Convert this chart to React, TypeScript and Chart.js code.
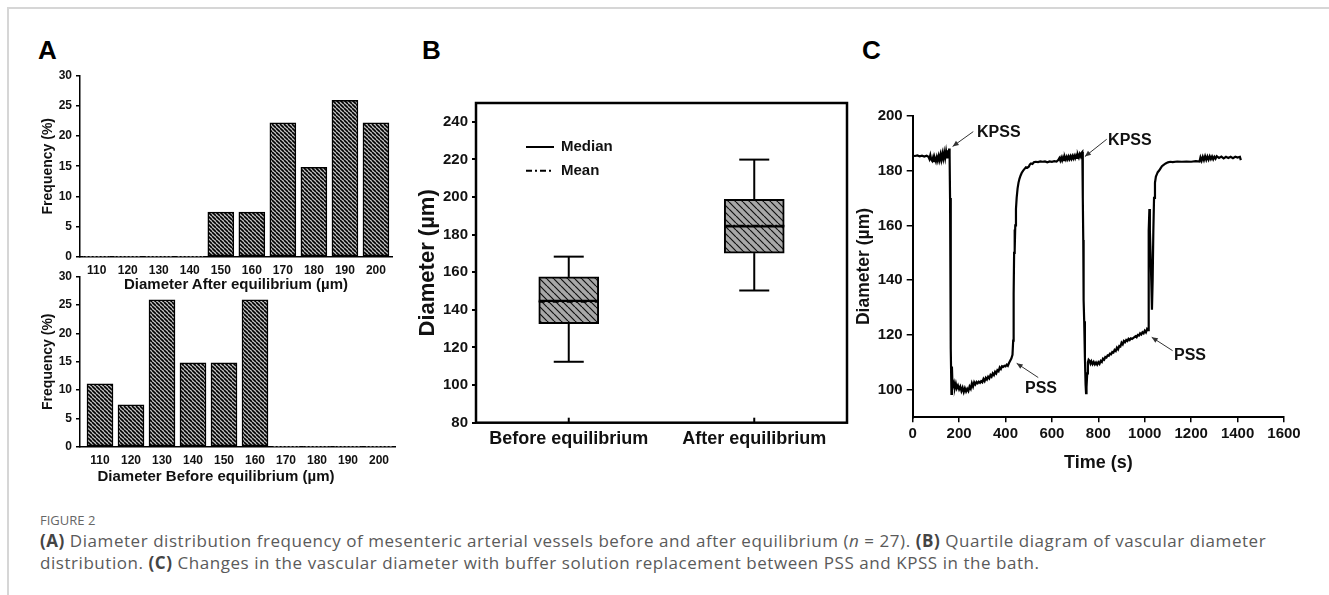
import React, { useEffect, useRef } from "react";
import { Chart, registerables } from "chart.js";

Chart.register(...registerables);

const FONT = "'Liberation Sans', Arial, Helvetica, sans-serif";
const INK = "#111";

// ---------- Panel A: histograms ----------
const DIAMETER_BINS = [110, 120, 130, 140, 150, 160, 170, 180, 190, 200];
const FREQ_AFTER = [0, 0, 0, 0, 7.4, 7.4, 22.2, 14.8, 25.9, 22.2];
const FREQ_BEFORE = [11.1, 7.4, 25.9, 14.8, 14.8, 25.9, 0, 0, 0, 0];
const FREQ_TICKS = [0, 5, 10, 15, 20, 25, 30];

// ---------- Panel B: box plot ----------
const BOX_GROUPS = ["Before equilibrium", "After equilibrium"];
const BOX_MIN = [112.4, 150.3];
const BOX_Q1 = [132.7, 170.2];
const BOX_MEDIAN = [144.8, 184.4];
const BOX_MEAN = [144.3, 184.8];
const BOX_Q3 = [157.5, 198.8];
const BOX_MAX = [168.3, 219.9];
const BOX_TICKS = [80, 100, 120, 140, 160, 180, 200, 220, 240];
const LEGEND_LABELS = ["Median", "Mean"];

// ---------- Panel C: diameter trace ----------
const TIME_S = [
  0, 10, 20, 30, 40, 50, 60, 68, 72, 76, 80, 84, 88, 92, 96, 100, 104, 108, 112, 116,
  120, 124, 128, 132, 136, 140, 144, 148, 152, 155, 157, 159, 161, 163, 165, 167, 169, 171, 174, 178,
  182, 186, 190, 195, 200, 205, 210, 215, 220, 225, 230, 235, 240, 245, 250, 255, 260, 265, 270, 275,
  280, 285, 290, 295, 300, 305, 310, 315, 320, 325, 330, 335, 340, 345, 350, 355, 360, 365, 370, 375,
  380, 385, 390, 395, 400, 405, 410, 415, 420, 425, 430, 433, 435, 437, 439, 440, 442, 445, 448, 452,
  456, 460, 465, 470, 476, 482, 488, 494, 500, 505, 510, 516, 522, 530, 540, 550, 560, 570, 580, 590,
  600, 610, 620, 628, 632, 636, 640, 644, 648, 652, 656, 660, 664, 668, 672, 676, 680, 684, 688, 692,
  696, 700, 704, 708, 712, 716, 720, 724, 728, 731, 733, 735, 736, 737, 739, 742, 745, 747, 749, 752,
  755, 758, 762, 766, 770, 775, 780, 785, 790, 795, 800, 805, 810, 815, 820, 825, 830, 835, 840, 845,
  850, 855, 860, 865, 870, 875, 880, 885, 890, 895, 900, 905, 910, 915, 920, 925, 930, 935, 940, 945,
  950, 955, 960, 965, 970, 975, 980, 985, 990, 995, 1000, 1005, 1010, 1014, 1016, 1018, 1020, 1022, 1025, 1028,
  1031, 1034, 1037, 1040, 1044, 1048, 1052, 1056, 1062, 1068, 1074, 1080, 1090, 1100, 1110, 1120, 1140, 1160, 1180, 1200,
  1220, 1236, 1240, 1245, 1250, 1255, 1260, 1265, 1270, 1275, 1280, 1285, 1290, 1295, 1300, 1305, 1310, 1320, 1330, 1340,
  1350, 1360, 1370, 1380, 1390, 1400, 1410, 1414,
];
const DIAMETER_UM = [
  185.4, 185.3, 185.5, 185.2, 185.4, 185.1, 185.4, 185.0, 184.2, 185.6, 184.0, 183.5, 184.8, 183.4, 184.4, 183.3, 184.9, 183.6, 185.3, 183.8,
  185.8, 184.0, 186.2, 184.4, 186.6, 184.6, 187.0, 184.8, 187.4, 185.2, 188.0, 185.8, 170.0, 140.0, 115.0, 98.5, 108.5, 103.0, 101.4, 102.6,
  100.8, 102.2, 100.6, 101.6, 100.2, 101.2, 99.6, 100.8, 99.2, 100.6, 99.4, 100.4, 99.6, 101.2, 100.4, 102.4, 101.2, 102.8, 102.0, 102.9,
  102.4, 103.0, 102.6, 103.2, 102.8, 104.0, 103.2, 104.4, 103.8, 104.8, 104.2, 105.4, 104.8, 106.0, 105.4, 106.6, 106.0, 107.2, 106.8, 108.2,
  107.6, 108.6, 108.4, 108.8, 108.6, 109.2, 108.8, 109.8, 110.6, 111.4, 112.8, 118.0, 135.0, 150.0, 158.5, 151.0, 160.0, 166.0, 170.0, 173.5,
  175.6, 177.0, 178.2, 179.2, 180.0, 180.6, 181.2, 181.0, 181.4, 182.2, 182.6, 182.4, 183.0, 183.2, 183.1, 183.3, 183.2, 183.3, 183.0, 183.3,
  183.2, 183.4, 183.3, 183.9, 184.5, 183.6, 184.7, 183.7, 184.8, 183.8, 184.9, 184.0, 185.0, 184.1, 185.1, 184.2, 185.2, 184.3, 185.3, 184.4,
  185.4, 184.5, 185.5, 184.6, 185.7, 184.8, 186.0, 185.2, 186.5, 186.8, 170.0, 154.7, 145.0, 132.8, 125.0, 112.0, 102.0, 98.8, 101.0, 106.0,
  110.0, 111.0, 110.6, 109.6, 110.4, 109.4, 110.2, 109.3, 110.0, 109.2, 110.1, 109.5, 110.6, 110.2, 111.4, 111.0, 112.0, 111.8, 112.6, 112.4,
  113.2, 113.0, 113.8, 113.6, 114.6, 114.2, 115.4, 114.8, 116.0, 115.8, 117.2, 116.6, 117.8, 117.4, 118.2, 117.8, 118.6, 118.2, 118.8, 118.6,
  118.9, 119.2, 119.6, 119.2, 120.0, 119.8, 120.6, 120.2, 121.0, 120.6, 121.6, 121.0, 122.2, 121.8, 140.0, 158.0, 166.0, 158.0, 150.0, 140.0,
  129.2, 140.0, 158.0, 170.0, 175.5, 177.8, 178.6, 179.4, 180.0, 180.8, 181.6, 182.0, 182.6, 183.0, 183.2, 183.1, 183.3, 183.2, 183.3, 183.2,
  183.4, 183.3, 184.8, 183.6, 185.0, 183.8, 185.2, 183.9, 185.1, 184.0, 185.2, 184.2, 185.1, 184.1, 185.0, 184.3, 185.2, 184.6, 185.1, 184.4,
  185.0, 184.6, 185.0, 184.5, 185.0, 184.7, 185.0, 183.8,
];
const TIME_TICKS = [0, 200, 400, 600, 800, 1000, 1200, 1400, 1600];
const TRACE_TICKS = [100, 120, 140, 160, 180, 200];

const ANNOTATION_LABELS = ["KPSS", "KPSS", "PSS", "PSS"];
const ANNOTATION_TEXT_AT = [[277, 194], [842, 190.8], [484, 100.6], [1126, 112.4]];
const ANNOTATION_FROM = [[261, 194.2], [836, 191.4], [541, 104.5], [1120, 114.3]];
const ANNOTATION_TO = [[172, 188.8], [742, 185.1], [448, 109.7], [1030, 119.2]];

// ---------- helpers ----------
function hatch(bg: string, fg: string, size: number, lw: number) {
  const c = document.createElement("canvas");
  c.width = size;
  c.height = size;
  const g = c.getContext("2d")!;
  g.fillStyle = bg;
  g.fillRect(0, 0, size, size);
  g.strokeStyle = fg;
  g.lineWidth = lw;
  g.beginPath();
  for (const k of [-size, 0, size]) {
    g.moveTo(k, 0);
    g.lineTo(k + size, size);
  }
  g.stroke();
  return g.createPattern(c, "repeat")!;
}

const bold = (size: number) => ({ family: FONT, size, weight: "bold" as const });
const setTicks = (vals: number[]) => (s: any) => {
  s.ticks = vals.map((v) => ({ value: v }));
};

function line(ctx: CanvasRenderingContext2D, x0: number, y0: number, x1: number, y1: number) {
  ctx.beginPath();
  ctx.moveTo(x0, y0);
  ctx.lineTo(x1, y1);
  ctx.stroke();
}

function histConfig(values: number[], xmin: number, xmax: number, padTop: number, padRight: number, xHeight: number) {
  return {
    type: "bar",
    data: {
      datasets: [
        {
          data: DIAMETER_BINS.map((b, i) => ({ x: b, y: values[i] })),
          backgroundColor: hatch("#c4c4c4", "#000", 4, 1.6),
          borderColor: "#000",
          borderWidth: (c: any) => (values[c.dataIndex] > 0 ? 1.5 : 0),
          borderSkipped: false,
          barThickness: 26,
        },
      ],
    },
    options: {
      responsive: false,
      animation: false,
      layout: { padding: { left: 0, top: padTop, right: padRight, bottom: 0 } },
      plugins: { legend: { display: false }, tooltip: { enabled: false } },
      scales: {
        x: {
          type: "linear",
          min: xmin,
          max: xmax,
          offset: false,
          afterBuildTicks: setTicks(DIAMETER_BINS),
          afterFit: (s: any) => {
            s.height = xHeight;
          },
          grid: { display: false, drawTicks: false },
          border: { display: true, color: "#000", width: 1.5 },
          ticks: { font: bold(12), color: INK, padding: 6.8, maxRotation: 0, minRotation: 0, autoSkip: false, callback: (v: any) => String(v) },
        },
        y: {
          min: 0,
          max: 30,
          afterBuildTicks: setTicks(FREQ_TICKS),
          afterFit: (s: any) => {
            s.width = 80;
          },
          grid: { display: true, drawOnChartArea: false, drawTicks: true, tickLength: 4, color: "#000", lineWidth: 1.5 },
          border: { display: true, color: "#000", width: 1.5 },
          ticks: { font: bold(12), color: INK, padding: 4, callback: (v: any) => String(v) },
          title: { display: true, text: "Frequency (%)", font: bold(14), color: INK, padding: { top: 39.6, bottom: 0 } },
        },
      },
    },
  };
}

const boxPlugin = {
  id: "boxExtras",
  afterDatasetsDraw(chart: any) {
    const { ctx, chartArea: ca, scales } = chart;
    const x = scales.x;
    const y = scales.y;
    const meta = chart.getDatasetMeta(0);
    ctx.save();
    ctx.strokeStyle = "#000";
    meta.data.forEach((bar: any, i: number) => {
      const cx = bar.x;
      const hw = bar.width / 2;
      const pMin = y.getPixelForValue(BOX_MIN[i]);
      const pMax = y.getPixelForValue(BOX_MAX[i]);
      const pQ1 = y.getPixelForValue(BOX_Q1[i]);
      const pQ3 = y.getPixelForValue(BOX_Q3[i]);
      const pMed = y.getPixelForValue(BOX_MEDIAN[i]);
      const pMean = y.getPixelForValue(BOX_MEAN[i]);
      ctx.setLineDash([]);
      ctx.lineWidth = 2;
      line(ctx, cx, pQ3, cx, pMax);
      line(ctx, cx, pQ1, cx, pMin);
      line(ctx, cx - hw / 2, pMax, cx + hw / 2, pMax);
      line(ctx, cx - hw / 2, pMin, cx + hw / 2, pMin);
      ctx.lineWidth = 2.2;
      line(ctx, cx - hw, pMed, cx + hw, pMed);
      ctx.lineWidth = 1.8;
      ctx.setLineDash([6, 3, 2, 3]);
      line(ctx, cx - hw, pMean, cx + hw, pMean);
    });
    ctx.setLineDash([]);
    // frame
    ctx.lineWidth = 2.5;
    ctx.strokeRect(ca.left, ca.top, ca.right - ca.left, ca.bottom - ca.top);
    // inward x ticks
    ctx.lineWidth = 2;
    x.ticks.forEach((_: any, i: number) => {
      const px = x.getPixelForTick(i);
      line(ctx, px, ca.bottom, px, ca.bottom - 5);
    });
    // legend
    const L = ca.left;
    const T = ca.top;
    ctx.lineWidth = 2;
    line(ctx, L + 50, T + 44, L + 78, T + 44);
    ctx.setLineDash([6, 3, 2, 3]);
    line(ctx, L + 50, T + 67.7, L + 78, T + 67.7);
    ctx.setLineDash([]);
    ctx.font = `bold 15px ${FONT}`;
    ctx.textBaseline = "middle";
    ctx.textAlign = "left";
    ctx.fillStyle = INK;
    ctx.fillText(LEGEND_LABELS[0], L + 85, T + 44);
    ctx.fillText(LEGEND_LABELS[1], L + 85, T + 67.7);
    ctx.restore();
  },
};

const boxConfig = () => ({
  type: "bar",
  data: {
    labels: BOX_GROUPS,
    datasets: [
      {
        data: BOX_Q1.map((q, i) => [q, BOX_Q3[i]]),
        backgroundColor: hatch("#a8a8a8", "#111", 7, 1.2),
        borderColor: "#000",
        borderWidth: 2,
        borderSkipped: false,
        barThickness: 60,
      },
    ],
  },
  options: {
    responsive: false,
    animation: false,
    layout: { padding: { left: 0, top: 8.3, right: 13, bottom: 0 } },
    plugins: { legend: { display: false }, tooltip: { enabled: false } },
    scales: {
      x: {
        afterFit: (s: any) => {
          s.height = 47.3;
        },
        grid: { display: false, drawTicks: false },
        border: { display: false },
        ticks: { font: bold(18), color: INK, padding: 5.5, maxRotation: 0, minRotation: 0, autoSkip: false },
      },
      y: {
        min: 80,
        max: 250,
        afterBuildTicks: setTicks(BOX_TICKS),
        afterFit: (s: any) => {
          s.width = 76;
        },
        grid: { display: true, drawOnChartArea: false, drawTicks: true, tickLength: 4, color: "#000", lineWidth: 2 },
        border: { display: false },
        ticks: { font: bold(15), color: INK, padding: 4, callback: (v: any) => String(v) },
        title: { display: true, text: "Diameter (µm)", font: bold(22), color: INK, padding: { top: 14.8, bottom: 0 } },
      },
    },
  },
  plugins: [boxPlugin],
});

const annotationPlugin = {
  id: "arrows",
  afterDatasetsDraw(chart: any) {
    const { ctx, scales } = chart;
    const x = scales.x;
    const y = scales.y;
    ctx.save();
    ANNOTATION_LABELS.forEach((label, i) => {
      const x0 = x.getPixelForValue(ANNOTATION_FROM[i][0]);
      const y0 = y.getPixelForValue(ANNOTATION_FROM[i][1]);
      const x1 = x.getPixelForValue(ANNOTATION_TO[i][0]);
      const y1 = y.getPixelForValue(ANNOTATION_TO[i][1]);
      ctx.strokeStyle = "#333";
      ctx.fillStyle = "#333";
      ctx.lineWidth = 1;
      line(ctx, x0, y0, x1, y1);
      const a = Math.atan2(y1 - y0, x1 - x0);
      const len = 6;
      const w = 2.6;
      ctx.beginPath();
      ctx.moveTo(x1, y1);
      ctx.lineTo(x1 - len * Math.cos(a) + w * Math.sin(a), y1 - len * Math.sin(a) - w * Math.cos(a));
      ctx.lineTo(x1 - len * Math.cos(a) - w * Math.sin(a), y1 - len * Math.sin(a) + w * Math.cos(a));
      ctx.closePath();
      ctx.fill();
      ctx.font = `bold 16px ${FONT}`;
      ctx.textAlign = "left";
      ctx.textBaseline = "middle";
      ctx.fillStyle = INK;
      ctx.fillText(label, x.getPixelForValue(ANNOTATION_TEXT_AT[i][0]), y.getPixelForValue(ANNOTATION_TEXT_AT[i][1]));
    });
    ctx.restore();
  },
};

const traceConfig = () => ({
  type: "line",
  data: {
    datasets: [
      {
        data: TIME_S.map((t, i) => ({ x: t, y: DIAMETER_UM[i] })),
        borderColor: "#000",
        borderWidth: 2.2,
        pointRadius: 0,
        tension: 0,
        fill: false,
      },
    ],
  },
  options: {
    responsive: false,
    animation: false,
    layout: { padding: { left: 0, top: 15.7, right: 45, bottom: 0 } },
    plugins: { legend: { display: false }, tooltip: { enabled: false } },
    scales: {
      x: {
        type: "linear",
        min: 0,
        max: 1600,
        afterBuildTicks: setTicks(TIME_TICKS),
        afterFit: (s: any) => {
          s.height = 62.7;
        },
        grid: { display: true, drawOnChartArea: false, drawTicks: true, tickLength: 5, color: "#000", lineWidth: 1.5 },
        border: { display: true, color: "#000", width: 2 },
        ticks: { font: bold(15), color: INK, padding: 2.7, maxRotation: 0, autoSkip: false, callback: (v: any) => String(v) },
        title: { display: true, text: "Time (s)", font: bold(18), color: INK, padding: { top: 0, bottom: 6.2 } },
      },
      y: {
        min: 90,
        max: 200,
        afterBuildTicks: setTicks(TRACE_TICKS),
        afterFit: (s: any) => {
          s.width = 72.7;
        },
        grid: { display: true, drawOnChartArea: false, drawTicks: true, tickLength: 6, color: "#000", lineWidth: 1.5 },
        border: { display: true, color: "#000", width: 2 },
        ticks: { font: bold(15), color: INK, padding: 4, callback: (v: any) => String(v) },
        title: { display: true, text: "Diameter (µm)", font: bold(17.5), color: INK, padding: { top: 13.5, bottom: 0 } },
      },
    },
  },
  plugins: [annotationPlugin],
});

function ChartCanvas(props: { left: number; top: number; width: number; height: number; make: () => any }) {
  const ref = useRef<HTMLCanvasElement>(null);
  useEffect(() => {
    const chart = new Chart(ref.current!, props.make());
    return () => chart.destroy();
  }, []);
  return (
    <canvas
      ref={ref}
      width={props.width}
      height={props.height}
      style={{ position: "absolute", left: props.left, top: props.top, width: props.width, height: props.height }}
    />
  );
}

const letterStyle = (left: number): React.CSSProperties => ({
  position: "absolute",
  left,
  top: 35,
  fontFamily: FONT,
  fontWeight: "bold",
  fontSize: 26,
  lineHeight: "30px",
  color: "#000",
});

const axisTitleStyle = (cx: number, cy: number): React.CSSProperties => ({
  position: "absolute",
  left: cx,
  top: cy,
  transform: "translate(-50%, -50%)",
  fontFamily: FONT,
  fontWeight: "bold",
  fontSize: 15,
  lineHeight: "18px",
  whiteSpace: "nowrap",
  color: INK,
});

export default function App() {
  return (
    <div style={{ position: "absolute", left: 0, top: 0, width: 1329, height: 595, background: "#fff", overflow: "hidden" }}>
      <div
        style={{
          position: "absolute",
          left: 7,
          top: 7,
          width: 1340,
          height: 600,
          borderTop: "2px solid #d6d6d6",
          borderLeft: "2px solid #d6d6d6",
        }}
      />
      <div style={letterStyle(38)}>A</div>
      <div style={letterStyle(422)}>B</div>
      <div style={letterStyle(862)}>C</div>

      <ChartCanvas left={0} top={262} width={410} height={230} make={() => histConfig(FREQ_BEFORE, 103.55, 205.16, 14.7, 15, 45.3)} />
      <ChartCanvas left={0} top={60} width={410} height={235} make={() => histConfig(FREQ_AFTER, 104.62, 205.17, 15.7, 18, 38.3)} />
      <div style={axisTitleStyle(236, 284)}>Diameter After equilibrium (µm)</div>
      <div style={axisTitleStyle(216, 476)}>Diameter Before equilibrium (µm)</div>

      <ChartCanvas left={400} top={90} width={460} height={380} make={boxConfig} />
      <ChartCanvas left={840} top={100} width={489} height={380} make={traceConfig} />

      <div style={{ position: "absolute", left: 40, top: 510, fontFamily: "'Open Sans', 'Noto Sans', sans-serif" }}>
        <div style={{ fontSize: 13, lineHeight: "20px", color: "#666" }}>FIGURE 2</div>
        <div style={{ fontSize: 17, lineHeight: "22px", letterSpacing: 0.55, color: "#5a5a5a", whiteSpace: "nowrap" }}>
          <b style={{ color: "#444" }}>(A)</b> Diameter distribution frequency of mesenteric arterial vessels before and after equilibrium (<i>n</i> = 27).{" "}
          <b style={{ color: "#444" }}>(B)</b> Quartile diagram of vascular diameter
          <br />
          distribution. <b style={{ color: "#444" }}>(C)</b> Changes in the vascular diameter with buffer solution replacement between PSS and KPSS in the bath.
        </div>
      </div>
    </div>
  );
}
